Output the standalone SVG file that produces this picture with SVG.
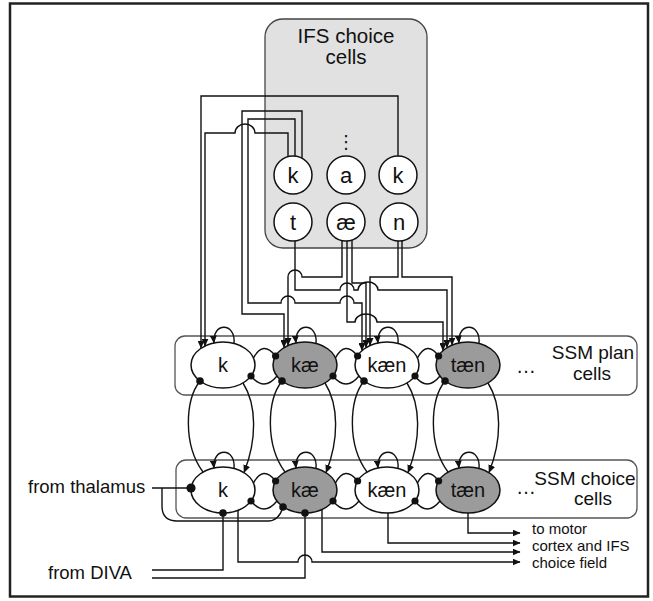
<svg xmlns="http://www.w3.org/2000/svg" width="653" height="601" viewBox="0 0 653 601">
<defs>
<style>
text{font-family:"Liberation Sans",Arial,sans-serif;fill:#111}
.c{text-anchor:middle}
.ifsl{font-size:22px}
.cl{font-size:20px}
.lab{font-size:19px}
.io{font-size:18.5px}
.out{font-size:15px}
.box{fill:#fff;stroke:#555;stroke-width:1.3}
.cell{stroke:#111;stroke-width:1.5}
.w{fill:#fff}
.g{fill:#9b9b9b}
.ln{fill:none;stroke:#111;stroke-width:1.4}
.ar{marker-end:url(#ah)}
.dot{fill:#111}
</style>
<marker id="ah" markerWidth="8" markerHeight="7" refX="7.5" refY="3.5" orient="auto" markerUnits="userSpaceOnUse"><path d="M0,0 L8,3.5 L0,7 z" fill="#111"/></marker>
</defs>
<rect id="frame" x="10" y="3.5" width="638" height="593" fill="#fff" stroke="#222" stroke-width="2.5"/>

<g id="ifs-choice-cells">
<rect x="265" y="19" width="162" height="229" rx="18" fill="#e1e1e1" stroke="#444" stroke-width="1.3"/>
<text class="c" x="346" y="43" style="font-size:20.5px">IFS choice</text>
<text class="c" x="346" y="64" style="font-size:20.5px">cells</text>
<text class="c" x="346" y="148" style="font-family:'DejaVu Sans',sans-serif;font-size:18px">⋮</text>
</g>
<g id="ifs-k1"><circle class="cell w" cx="293" cy="175" r="19"/><text class="c ifsl" x="293" y="183">k</text></g>
<g id="ifs-a"><circle class="cell w" cx="346" cy="175" r="19"/><text class="c ifsl" x="346" y="183">a</text></g>
<g id="ifs-k2"><circle class="cell w" cx="398" cy="175" r="19"/><text class="c ifsl" x="398" y="183">k</text></g>
<g id="ifs-t"><circle class="cell w" cx="293" cy="222" r="19"/><text class="c ifsl" x="293" y="230">t</text></g>
<g id="ifs-ae"><circle class="cell w" cx="346" cy="222" r="19"/><text class="c ifsl" x="346" y="230">æ</text></g>
<g id="ifs-n"><circle class="cell w" cx="399" cy="222" r="19"/><text class="c ifsl" x="399" y="230">n</text></g>

<g id="ssm-plan-cells">
<rect class="box" x="175" y="336" width="462" height="59" rx="10"/>
<text class="c lab" x="593" y="359">SSM plan</text>
<text class="c lab" x="592" y="380">cells</text>
<text class="c" x="526" y="373" style="font-size:20px">…</text>
</g>
<g id="ssm-choice-cells">
<rect class="box" x="176" y="460" width="461" height="58" rx="10"/>
<text class="c lab" x="585" y="485">SSM choice</text>
<text class="c lab" x="593" y="505">cells</text>
<text class="c" x="526" y="494" style="font-size:20px">…</text>
</g>

<g id="plan-k"><ellipse class="cell w" cx="223" cy="365" rx="32" ry="23"/><text class="c cl" x="223" y="372">k</text></g>
<g id="plan-kae"><ellipse class="cell g" cx="305" cy="365" rx="32" ry="23"/><text class="c cl" x="305" y="372">kæ</text></g>
<g id="plan-kaen"><ellipse class="cell w" cx="387" cy="365" rx="32" ry="23"/><text class="c cl" x="387" y="372">kæn</text></g>
<g id="plan-taen"><ellipse class="cell g" cx="468" cy="365" rx="32" ry="23"/><text class="c cl" x="468" y="372">tæn</text></g>

<g id="choice-k"><ellipse class="cell w" cx="223" cy="490" rx="32" ry="23"/><text class="c cl" x="223" y="497">k</text></g>
<g id="choice-kae"><ellipse class="cell g" cx="305" cy="490" rx="32" ry="23"/><text class="c cl" x="305" y="497">kæ</text></g>
<g id="choice-kaen"><ellipse class="cell w" cx="387" cy="490" rx="32" ry="23"/><text class="c cl" x="387" y="497">kæn</text></g>
<g id="choice-taen"><ellipse class="cell g" cx="468" cy="490" rx="32" ry="23"/><text class="c cl" x="468" y="497">tæn</text></g>

<g id="connectors">
<path class="ln ar" d="M398,156 V96 H201 V348"/>
<path class="ln ar" d="M288,157 V133 H255 A10,9 0 0 0 235,133 H205 V346"/>
<path class="ln ar" d="M295,156 V119 H248 V303 H281 A7,7 0 0 1 295,303 H340 A7,7 0 0 1 354,303 H362 V350.5"/>
<path class="ln ar" d="M302,158 V111 H242 V314 H284 V347.6"/>
<path class="ln ar" d="M342,241 V277 H302 A7,7 0 0 0 288,277 V345.5"/>
<path class="ln ar" d="M295,241 V290 H340 A7,7 0 0 1 354,290 H358 A10,8 0 0 1 378,290 H447 V347.6"/>
<path class="ln ar" d="M352,240 V283 H366 V347.6"/>
<path class="ln ar" d="M347,241 V322 H355 A11,8 0 0 1 377,322 H443 V350.6"/>
<path class="ln ar" d="M398,241 V277 H370 V345.5"/>
<path class="ln ar" d="M402,241 V277 H452 V345.1"/>
<path class="ln ar" d="M234,343.3 C236,322 212,322 214,343.1"/>
<path class="ln ar" d="M316,343.3 C318,322 294,322 296,343.1"/>
<path class="ln ar" d="M398,343.3 C400,322 376,322 378,343.1"/>
<path class="ln ar" d="M479,343.3 C481,322 457,322 459,343.1"/>
<path class="ln ar" d="M234,468.3 C236,447 212,447 214,468.1"/>
<path class="ln ar" d="M316,468.3 C318,447 294,447 296,468.1"/>
<path class="ln ar" d="M398,468.3 C400,447 376,447 378,468.1"/>
<path class="ln ar" d="M479,468.3 C481,447 457,447 459,468.1"/>
<path class="ln" d="M253.5,358 Q263,340 275.6,356 M277,376 Q264,392 251,376"/>
<path class="ln" d="M335.5,358 Q345,340 357.6,356 M359,376 Q346,392 333,376"/>
<path class="ln" d="M417.5,358 Q427,340 438.6,356 M440,376 Q427,392 415,376"/>
<circle class="dot" cx="275.6" cy="356" r="3.6"/><circle class="dot" cx="251" cy="376" r="3.6"/>
<circle class="dot" cx="357.6" cy="356" r="3.6"/><circle class="dot" cx="333" cy="376" r="3.6"/>
<circle class="dot" cx="438.6" cy="356" r="3.6"/><circle class="dot" cx="415" cy="376" r="3.6"/>
<path class="ln" d="M253.5,483 Q263,465 275.6,481 M277,501 Q264,517 251,501"/>
<path class="ln" d="M335.5,483 Q345,465 357.6,481 M359,501 Q346,517 333,501"/>
<path class="ln" d="M417.5,483 Q427,465 438.6,481 M440,501 Q427,517 415,501"/>
<circle class="dot" cx="275.6" cy="481" r="3.6"/><circle class="dot" cx="251" cy="501" r="3.6"/>
<circle class="dot" cx="357.6" cy="481" r="3.6"/><circle class="dot" cx="333" cy="501" r="3.6"/>
<circle class="dot" cx="438.6" cy="481" r="3.6"/><circle class="dot" cx="415" cy="501" r="3.6"/>
<path class="ln" d="M200,381 C185,400 183,445 203,472"/>
<path class="ln" d="M282,381 C267,400 265,445 285,472"/>
<path class="ln" d="M364,381 C349,400 347,445 367,472"/>
<path class="ln" d="M445,381 C430,400 428,445 448,472"/>
<circle class="dot" cx="200" cy="381" r="3.8"/><circle class="dot" cx="282" cy="381" r="3.8"/>
<circle class="dot" cx="364" cy="381" r="3.8"/><circle class="dot" cx="445" cy="381" r="3.8"/>
<path class="ln ar" d="M243,383 C257,405 257,440 244,472.6"/>
<path class="ln ar" d="M325,383 C339,405 339,440 326,472.6"/>
<path class="ln ar" d="M407,383 C421,405 421,440 408,472.6"/>
<path class="ln ar" d="M488,383 C502,405 502,440 489,472.6"/>
<path class="ln" d="M152,488 H188 M162,488 V506 Q162,521 177,521 H268 Q279,521 283,507"/>
<circle class="dot" cx="191" cy="488" r="4.6"/>
<circle class="dot" cx="283" cy="507" r="3.8"/>
<path class="ln" d="M152,570 H223 V513 M152,578 H305 V513"/>
<circle class="dot" cx="223" cy="513" r="3.8"/>
<circle class="dot" cx="305" cy="513" r="3.8"/>
<path class="ln ar" d="M238,510.3 V562 H298 A7,7 0 0 1 312,562 H520"/>
<path class="ln ar" d="M322,509.5 V552 H520"/>
<path class="ln ar" d="M388,513 V543 H520"/>
<path class="ln ar" d="M468,513 V533 H520"/>
</g>

<g id="labels">
<text class="io" x="28" y="493">from thalamus</text>
<text class="io" x="48" y="579">from DIVA</text>
<text class="out" x="532" y="534">to motor</text>
<text class="out" x="532" y="551">cortex and IFS</text>
<text class="out" x="532" y="568">choice field</text>
</g>
</svg>
